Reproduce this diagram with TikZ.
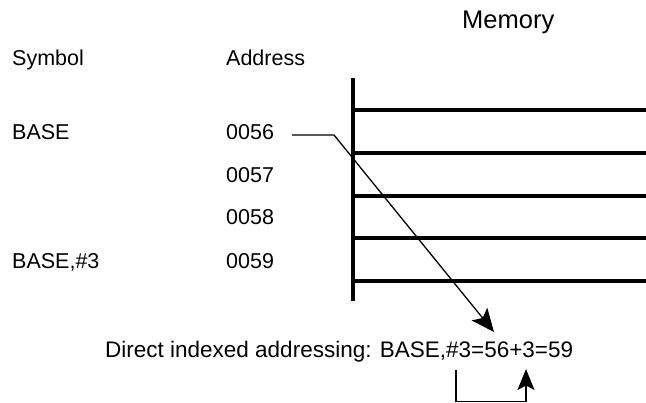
\documentclass[tikz,border=0pt]{standalone}
\usepackage{fontspec}
\setmainfont{Liberation Sans}
\usetikzlibrary{arrows.meta}
\begin{document}
\begin{tikzpicture}[x=1pt,y=-1pt,
  lbl/.style={inner sep=0pt,anchor=base west,font=\fontsize{21.5}{26}\selectfont},
  memline/.style={line width=4.3pt},
  thin/.style={line width=1.3pt},
  bigtip/.style={-{Stealth[length=23pt,width=20pt,inset=5pt]}},
  smalltip/.style={-{Stealth[length=21pt,width=17pt,inset=4.5pt]}}]
\useasboundingbox (0,0) rectangle (646,403);
% headings
\node[lbl,font=\fontsize{25.5}{30}\selectfont] (mem) at (462,29) {Memory};
\node[lbl] (sym) at (12,66) {Symbol};
\node[lbl] (adr) at (226,66) {Address};
% symbols and addresses
\node[lbl] (base) at (12,140) {BASE};
\node[lbl] (a56) at (226,140) {0056};
\node[lbl] (a57) at (226,183) {0057};
\node[lbl] (a58) at (226,225) {0058};
\node[lbl] (base3) at (12,269) {BASE,\#3};
\node[lbl] (a59) at (226,269) {0059};
% memory cells
\coordinate (vtop) at (353,78);
\coordinate (vbot) at (353,301);
\draw[memline] (vtop) -- (vbot);
\foreach \y in {110,153,196,238,281}
  \draw[memline] (353,\y) -- (646,\y);
% caption
\node[lbl,font=\fontsize{22.5}{27}\selectfont] (cap) at (105,358) {Direct indexed addressing: BASE,\#3=56+3=59};
% pointer from address 0056 into the caption
\coordinate (p0) at (292,135);
\coordinate (p1) at (334,135);
\coordinate (p2) at (494,332);
\draw[thin,bigtip,line join=miter] (p0) -- (p1) -- (p2);
% bracket from 56 to 3
\coordinate (b0) at (456,370);
\coordinate (b1) at (456,401.5);
\coordinate (b2) at (526,401.5);
\coordinate (b3) at (526,369);
\draw[thin,smalltip] (b0) -- (b1) -- (b2) -- (b3);
\end{tikzpicture}
\end{document}
